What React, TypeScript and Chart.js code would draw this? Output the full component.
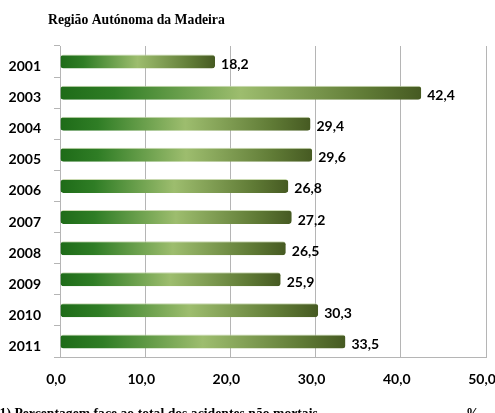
import React, { useEffect, useRef } from "react";
import { Chart, registerables } from "chart.js";

Chart.register(...registerables);

const categories = ["2001", "2003", "2004", "2005", "2006", "2007", "2008", "2009", "2010", "2011"];
const values = [18.2, 42.4, 29.4, 29.6, 26.8, 27.2, 26.5, 25.9, 30.3, 33.5];
const xTicks = [0, 10, 20, 30, 40, 50];
const titleText = "Região Autónoma da Madeira";
const footnoteText = "(1) Percentagem face ao total dos acidentes não mortais";
const unitText = "%";

const fmt = (v: number) => v.toFixed(1).replace(".", ",");

export default function App() {
  const ref = useRef<HTMLCanvasElement | null>(null);
  useEffect(() => {
    if (!ref.current) return;
    const textPlugin = {
      id: "texts",
      afterDraw(chart: any) {
        const ctx = chart.ctx;
        ctx.save();
        ctx.fillStyle = "#000";
        ctx.textAlign = "left";
        ctx.textBaseline = "middle";
        ctx.font = "bold 13.7px 'Liberation Serif'";
        ctx.fillText(titleText, 48, 20);
        ctx.textBaseline = "alphabetic";
        ctx.font = "bold 13.7px 'Liberation Serif'";
        ctx.fillText(footnoteText, -5, 418);
        ctx.fillText(unitText, 466, 418);
        // value labels
        const meta = chart.getDatasetMeta(0);
        ctx.textBaseline = "middle";
        ctx.font = "bold 14px Lato";
        meta.data.forEach((el: any, i: number) => {
          ctx.fillText(fmt(values[i]), el.x + 6, el.y + 3);
        });
        ctx.restore();
      },
    };
    const chart = new Chart(ref.current, {
      type: "bar",
      data: {
        labels: categories,
        datasets: [
          {
            data: values,
            backgroundColor: (c: any) => {
              const ch = c.chart;
              const xs = ch.scales.x;
              if (!xs || c.dataIndex === undefined) return "#6a9a40";
              const x0 = xs.getPixelForValue(0);
              const x1 = xs.getPixelForValue(values[c.dataIndex]);
              if (!isFinite(x0) || !isFinite(x1) || x1 <= x0) return "#6a9a40";
              const g = ch.ctx.createLinearGradient(x0, 0, x1, 0);
              g.addColorStop(0, "#1e6b18");
              g.addColorStop(0.15, "#2f7d25");
              g.addColorStop(0.5, "#9dbd6e");
              g.addColorStop(0.85, "#5f7a35");
              g.addColorStop(1, "#465a22");
              return g;
            },
            borderColor: "#c9d9b0",
            borderWidth: { top: 1, bottom: 0, left: 0, right: 0 },
            borderSkipped: false,
            borderRadius: 3,
            barPercentage: 0.9,
            categoryPercentage: 0.5,
          },
        ],
      },
      options: {
        indexAxis: "y",
        animation: false,
        responsive: false,
        maintainAspectRatio: false,
        layout: { padding: { top: 46, right: 9, left: 0, bottom: 0 } },
        plugins: { legend: { display: false }, tooltip: { enabled: false }, title: { display: false } },
        scales: {
          x: {
            min: 0,
            max: 50,
            afterBuildTicks: (s: any) => {
              s.ticks = xTicks.map((v) => ({ value: v }));
            },
            afterFit: (s: any) => {
              s.height = 413 - 357;
              s.paddingRight = 0;
              s.paddingLeft = 0;
            },
            ticks: {
              callback: (v: any) => fmt(Number(v)),
              font: { family: "Lato", weight: "bold", size: 14 },
              color: "#000",
              padding: 14,
              labelOffset: -4,
              maxRotation: 0,
            },
            grid: { color: "#b5b5b5", lineWidth: 1, tickLength: 0 },
            border: { color: "#b5b5b5" },
          },
          y: {
            afterFit: (s: any) => {
              s.width = 60;
            },
            ticks: {
              font: { family: "Lato", weight: "bold", size: 14 },
              color: "#000",
              padding: 13,
              labelOffset: 5,
            },
            grid: { drawOnChartArea: false, offset: true, tickLength: 6, color: "#b5b5b5" },
            border: { color: "#b5b5b5" },
          },
        },
      },
      plugins: [textPlugin],
    } as any);
    return () => chart.destroy();
  }, []);
  return (
    <div style={{ position: "absolute", left: 0, top: 0, width: 495, height: 413 }}>
      <canvas ref={ref} width={495} height={413} style={{ width: 495, height: 413, display: "block" }} />
    </div>
  );
}
